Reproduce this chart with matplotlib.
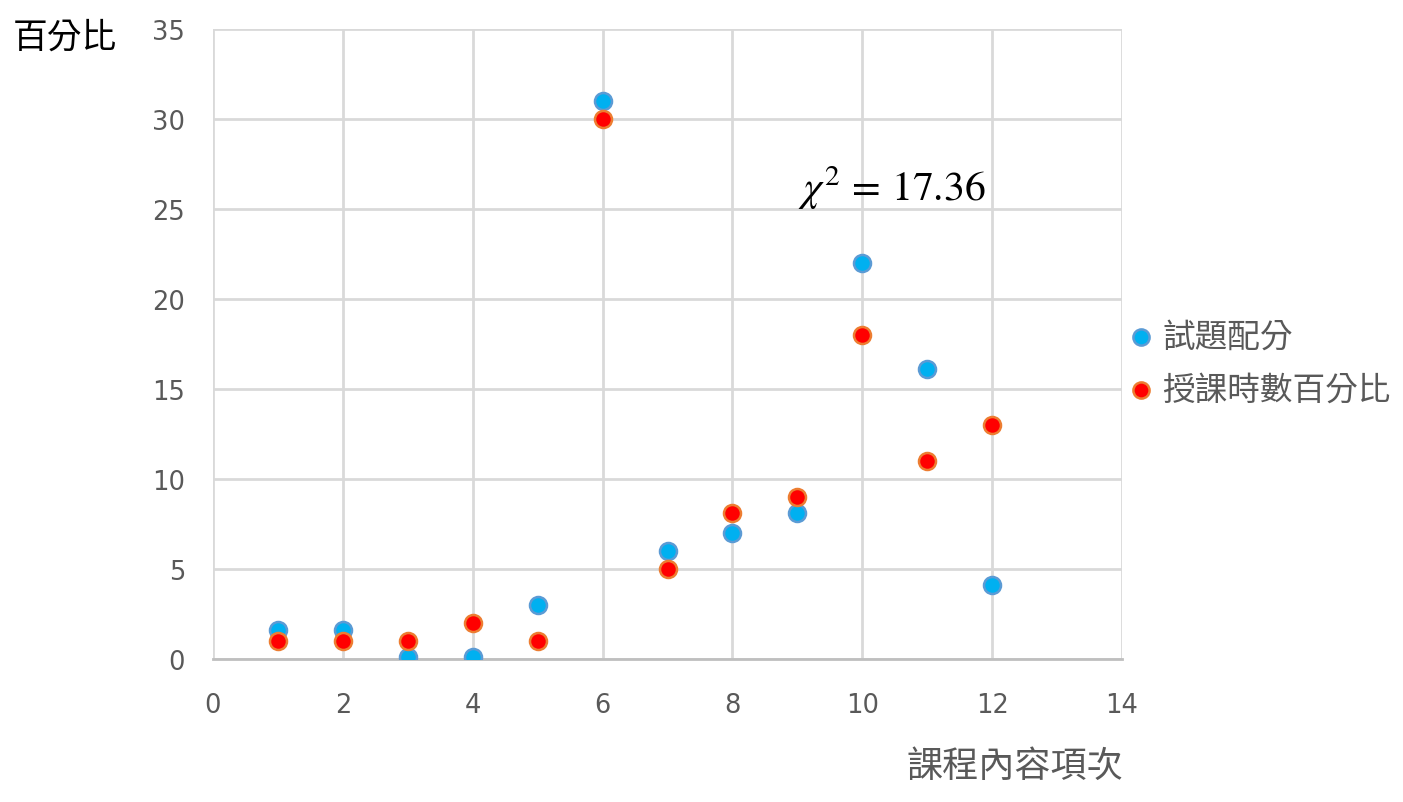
import matplotlib
matplotlib.use("Agg")
import matplotlib.pyplot as plt

plt.rcParams["font.family"] = ["Noto Sans CJK TC", "DejaVu Sans"]
plt.rcParams["mathtext.fontset"] = "stix"

# data
items = [1, 2, 3, 4, 5, 6, 7, 8, 9, 10, 11, 12]
exam_pct = [1.6, 1.6, 0.1, 0.1, 3.0, 31, 6, 7, 8.1, 22, 16.1, 4.1]
hours_pct = [1, 1, 1, 2, 1, 30, 5, 8.1, 9, 18, 11, 13]
series_names = ["試題配分", "授課時數百分比"]
chi_text = r"$\chi^2\,=\,17.36$"

GRID = "#D9D9D9"
TICK = "#595959"

fig = plt.figure(figsize=(14.03, 8.03), dpi=100)
ax = fig.add_axes([213 / 1403, 1 - 660 / 803, (1122 - 213) / 1403, (660 - 30) / 803])

ax.scatter(items, exam_pct, s=150, color="#00B0F0", edgecolors="#5B9BD5", linewidths=1.8,
           zorder=3, label=series_names[0])
ax.scatter(items, hours_pct, s=150, color="#FF0000", edgecolors="#ED7D31", linewidths=1.8,
           zorder=3, label=series_names[1])

ax.set_xlim(0, 14)
ax.set_ylim(0, 35)
ax.set_xticks(range(0, 15, 2))
ax.set_yticks(range(0, 36, 5))
ax.grid(True, color=GRID, lw=2.0, zorder=0)
ax.set_axisbelow(True)
for s in ["top", "right", "left"]:
    ax.spines[s].set_visible(False)
ax.spines["bottom"].set_color("#BFBFBF")
ax.spines["bottom"].set_linewidth(2.0)
ax.tick_params(length=0, labelsize=18.5, labelcolor=TICK)
ax.tick_params(axis="y", pad=20)
ax.tick_params(axis="x", pad=24)
for lab in ax.get_xticklabels() + ax.get_yticklabels():
    lab.set_family("DejaVu Sans")

fig.text(13 / 1403, 1 - 38 / 803, "百分比", fontsize=25, color="black", va="center", ha="left",
         fontweight="light")
fig.text(1015 / 1403, 1 - 767 / 803, "課程內容項次", fontsize=26, color=TICK, va="center",
         ha="center", fontweight="light")
ax.text(10.45, 26.2, chi_text, fontsize=30, color="black", ha="center", va="center")

leg = fig.legend(loc="upper left", bbox_to_anchor=(1128 / 1403, 1 - 322 / 803), frameon=False,
                 handlelength=0.8, handletextpad=0.25, labelspacing=0.62,
                 markerscale=0.95, borderaxespad=0, borderpad=0,
                 prop={"size": 23.5, "weight": "light"})
for t in leg.get_texts():
    t.set_color(TICK)

fig.savefig("out.png", dpi=100)
